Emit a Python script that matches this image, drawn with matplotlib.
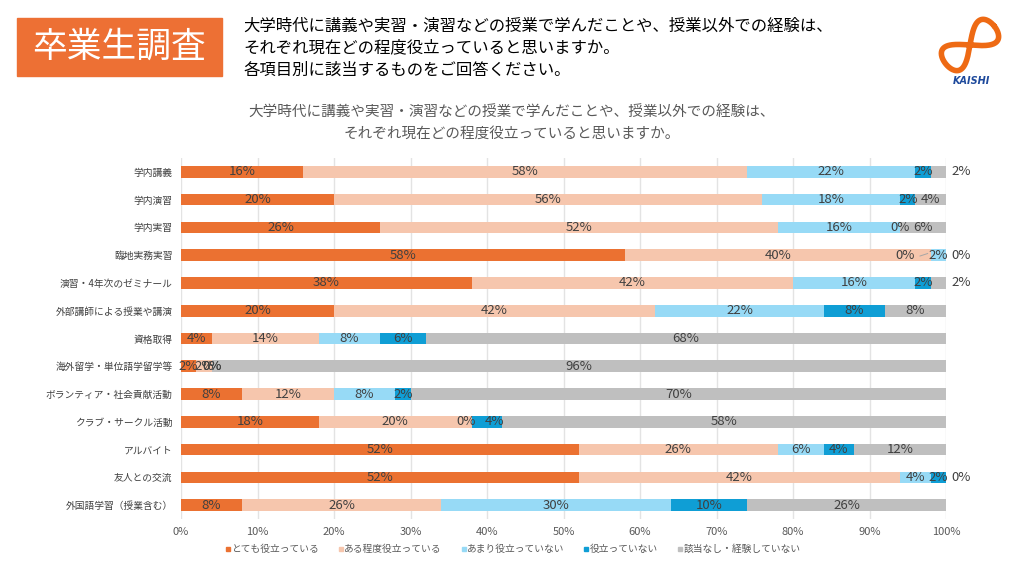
import numpy as np
import matplotlib.pyplot as plt
from matplotlib.patches import Rectangle
from matplotlib.lines import Line2D

plt.rcParams['font.family'] = ['Noto Sans CJK JP', 'DejaVu Sans']

# data (percent), rows top to bottom
items = ['学内講義', '学内演習', '学内実習', '臨地実務実習', '演習・4年次のゼミナール',
         '外部講師による授業や講演', '資格取得', '海外留学・単位語学留学等',
         'ボランティア・社会貢献活動', 'クラブ・サークル活動', 'アルバイト',
         '友人との交流', '外国語学習（授業含む）']
very_useful = [16, 20, 26, 58, 38, 20, 4, 2, 8, 18, 52, 52, 8]
some_useful = [58, 56, 52, 40, 42, 42, 14, 2, 12, 20, 26, 42, 26]
not_much = [22, 18, 16, 2, 16, 22, 8, 0, 8, 0, 6, 4, 30]
not_useful = [2, 2, 0, 0, 2, 8, 6, 0, 2, 4, 4, 2, 10]
no_exp = [2, 4, 6, 0, 2, 8, 68, 96, 70, 58, 12, 0, 26]

series_names = ['とても役立っている', 'ある程度役立っている', 'あまり役立っていない',
                '役立っていない', '該当なし・経験していない']
colors = ['#EB7131', '#F6C6AD', '#97DAF6', '#0F9ED5', '#BFBFBF']

series = [very_useful, some_useful, not_much, not_useful, no_exp]

# labels that excel moved off the segment centre: (row, series) -> (x, ha)
moved = {(0, 4): (100.7, 'left'), (4, 4): (100.7, 'left'),
         (3, 3): (94.6, 'center'), (3, 4): (100.7, 'left'),
         (11, 4): (100.7, 'left'),
         (9, 2): (37.2, 'center'), (9, 3): (41.0, 'center')}

W, H = 1024, 571
fig = plt.figure(figsize=(W / 100, H / 100), dpi=100)

ax = fig.add_axes([181 / W, 1 - 519 / H, 765 / W, (519 - 158) / H])
y = np.arange(len(items))
left = np.zeros(len(items))
for k, vals in enumerate(series):
    vals = np.array(vals, dtype=float)
    ax.barh(y, vals, left=left, height=0.42, color=colors[k], zorder=2)
    for i, v in enumerate(vals):
        x, ha = left[i] + v / 2, 'center'
        if (i, k) in moved:
            x, ha = moved[(i, k)]
        ax.text(x, y[i], f'{int(v)}%', ha=ha, va='center', fontsize=9.5,
                color='#404040', zorder=3)
    left += vals

# leader line for the 臨地実務実習 label
ax.plot([96.6, 97.6], [3 + 0.03, 3 - 0.06], color='#A6A6A6', lw=0.7, zorder=3)

ax.set_xlim(0, 100)
ax.set_ylim(len(items) - 0.5, -0.5)
ax.set_yticks(y)
ax.set_yticklabels(items, fontsize=7, color='#404040')
ax.set_xticks(np.arange(0, 101, 10))
ax.set_xticklabels([f'{t}%' for t in range(0, 101, 10)], fontsize=8, color='#595959')
ax.tick_params(length=0, pad=6)
ax.grid(axis='x', color='#E3E3E3', lw=1, zorder=0)
for s in ax.spines.values():
    s.set_visible(False)

handles = [Line2D([0], [0], marker='s', color='none', markerfacecolor=c,
                  markeredgecolor=c, markersize=3.5, linestyle='none') for c in colors]
fig.legend(handles, series_names, loc='center', bbox_to_anchor=(513 / W, 1 - 549 / H),
           ncol=5, frameon=False, fontsize=7, handlelength=0.5, handletextpad=0.1,
           columnspacing=2.0, labelcolor='#595959')

# chart title
fig.text(0.5, 1 - 113 / H, '大学時代に講義や実習・演習などの授業で学んだことや、授業以外での経験は、',
         ha='center', va='center', fontsize=10.5, color='#595959')
fig.text(0.5, 1 - 134 / H, 'それぞれ現在どの程度役立っていると思いますか。',
         ha='center', va='center', fontsize=10.5, color='#595959')

# header
fig.patches.append(Rectangle((17 / W, 1 - 76 / H), 205 / W, 58 / H,
                             transform=fig.transFigure, color='#ED7034', zorder=0))
fig.text(119 / W, 1 - 47 / H, '卒業生調査', ha='center', va='center',
         fontsize=25, color='white')
header = ['大学時代に講義や実習・演習などの授業で学んだことや、授業以外での経験は、',
          'それぞれ現在どの程度役立っていると思いますか。',
          '各項目別に該当するものをご回答ください。']
for j, line in enumerate(header):
    fig.text(243 / W, 1 - (26 + 22 * j) / H, line, ha='left', va='center',
             fontsize=11.8, color='black')

# logo (rough infinity mark)
lax = fig.add_axes([936 / W, 1 - 74 / H, 68 / W, 58 / H])
t = np.linspace(0, 2 * np.pi, 400)
lx = np.cos(t)
ly = np.sin(2 * t) * 0.45
a = np.deg2rad(38)
rx = lx * np.cos(a) - ly * np.sin(a)
ry = lx * np.sin(a) + ly * np.cos(a)
lax.plot(rx, ry, color='#EE6A14', lw=4, solid_capstyle='round')
lax.set_xlim(-1.1, 1.1)
lax.set_ylim(-0.95, 0.95)
lax.axis('off')
fig.text(971 / W, 1 - 81 / H, 'KAISHI', ha='center', va='center', fontsize=7,
         fontweight='bold', fontstyle='italic', color='#1E4A9C', family='DejaVu Sans')

fig.savefig('out.png', dpi=100)
